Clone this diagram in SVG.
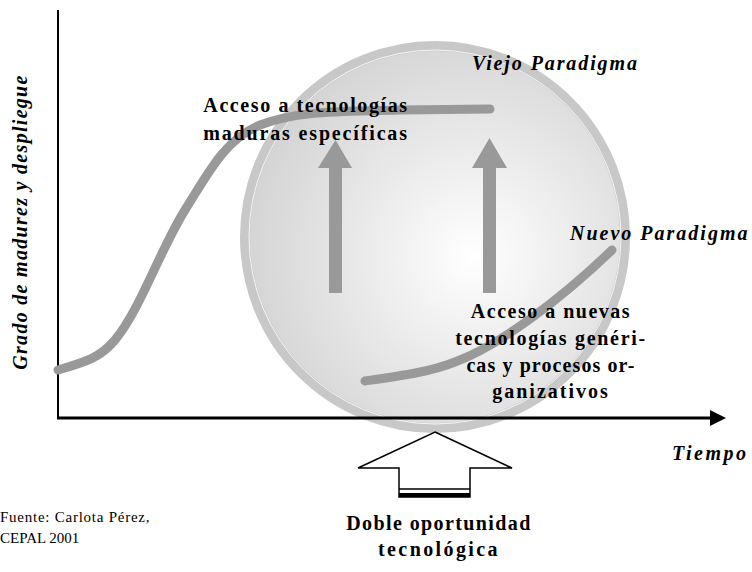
<svg xmlns="http://www.w3.org/2000/svg" width="752" height="572" viewBox="0 0 752 572">
<defs>
<radialGradient id="g" cx="0.6" cy="0.55" r="0.6">
<stop offset="0" stop-color="#ffffff"/>
<stop offset="1" stop-color="#d4d4d4"/>
</radialGradient>
</defs>
<style>
.t{font-family:"Liberation Serif","Times New Roman",serif;font-weight:bold;font-size:20px;fill:#000}
.i{font-style:italic}
.r{font-family:"Liberation Serif","Times New Roman",serif;font-size:15px;fill:#000}
.c{fill:none;stroke:#999999;stroke-width:9;stroke-linecap:round;stroke-linejoin:round}
.up{fill:#999999}
</style>
<rect width="752" height="572" fill="#fff"/>
<g id="circle">
<ellipse cx="435" cy="237" rx="190" ry="191" fill="url(#g)" stroke="#c8c8c8" stroke-width="10"/>
<ellipse cx="435" cy="237" rx="186" ry="187" fill="none" stroke="#ffffff" stroke-width="1" opacity="0.8"/>
</g>
<g id="axes">
<line x1="58" y1="10" x2="58" y2="419" stroke="#000" stroke-width="2"/>
<line x1="57" y1="418" x2="712" y2="418" stroke="#000" stroke-width="3"/>
<polygon points="710,410 726,418 710,426" fill="#000"/>
</g>
<g id="connectors">
<path id="old-curve" class="c" d="M58,370 C85,362 100,358 115,340 C140,310 160,250 185,210 C210,170 225,140 260,125 C300,110 340,112 400,110 L490,109"/>
<path id="new-curve" class="c" d="M365,381 C400,376 430,372 455,362 C500,345 560,300 612,250"/>
<g id="arrow-left" class="up">
<rect x="329" y="166" width="13" height="127"/>
<polygon points="318,168 352,168 335.5,140"/>
</g>
<g id="arrow-right" class="up">
<rect x="483" y="166" width="13" height="127"/>
<polygon points="472,168 507,168 489.5,138"/>
</g>
</g>
<g id="ylabel"><text class="t i" transform="translate(27,222) rotate(-90)" text-anchor="middle" letter-spacing="1.3">Grado de madurez y despliegue</text></g>
<g id="tiempo"><text class="t i" x="672" y="460" letter-spacing="2.5">Tiempo</text></g>
<g id="viejo"><text class="t i" x="472" y="70" letter-spacing="1.9">Viejo Paradigma</text></g>
<g id="nuevo"><text class="t i" x="570" y="240" letter-spacing="2">Nuevo Paradigma</text></g>
<g id="acceso-maduras">
<text class="t" x="306" y="112" text-anchor="middle" letter-spacing="1.6">Acceso a tecnologías</text>
<text class="t" x="306" y="140" text-anchor="middle" letter-spacing="1.85">maduras específicas</text>
</g>
<g id="acceso-nuevas">
<text class="t" x="551" y="318" text-anchor="middle" letter-spacing="1.5">Acceso a nuevas</text>
<text class="t" x="551" y="345" text-anchor="middle" letter-spacing="1.7">tecnologías genéri-</text>
<text class="t" x="551" y="372" text-anchor="middle" letter-spacing="1.1">cas y procesos or-</text>
<text class="t" x="551" y="398" text-anchor="middle" letter-spacing="2">ganizativos</text>
</g>
<g id="doble">
<polygon points="435,432 512,468 470,468 470,497 399,497 399,468 358,468" fill="#fff" stroke="#000" stroke-width="1.5"/>
<line x1="399" y1="489" x2="470" y2="489" stroke="#000" stroke-width="1.5"/>
<line x1="399" y1="495" x2="470" y2="495" stroke="#000" stroke-width="4"/>
<text class="t" x="439" y="530" text-anchor="middle" letter-spacing="1.4">Doble oportunidad</text>
<text class="t" x="439" y="556" text-anchor="middle" letter-spacing="2.4">tecnológica</text>
</g>
<g id="fuente">
<text class="r" x="0" y="522" letter-spacing="0.75">Fuente: Carlota Pérez,</text>
<text class="r" x="0" y="543">CEPAL 2001</text>
</g>
</svg>
